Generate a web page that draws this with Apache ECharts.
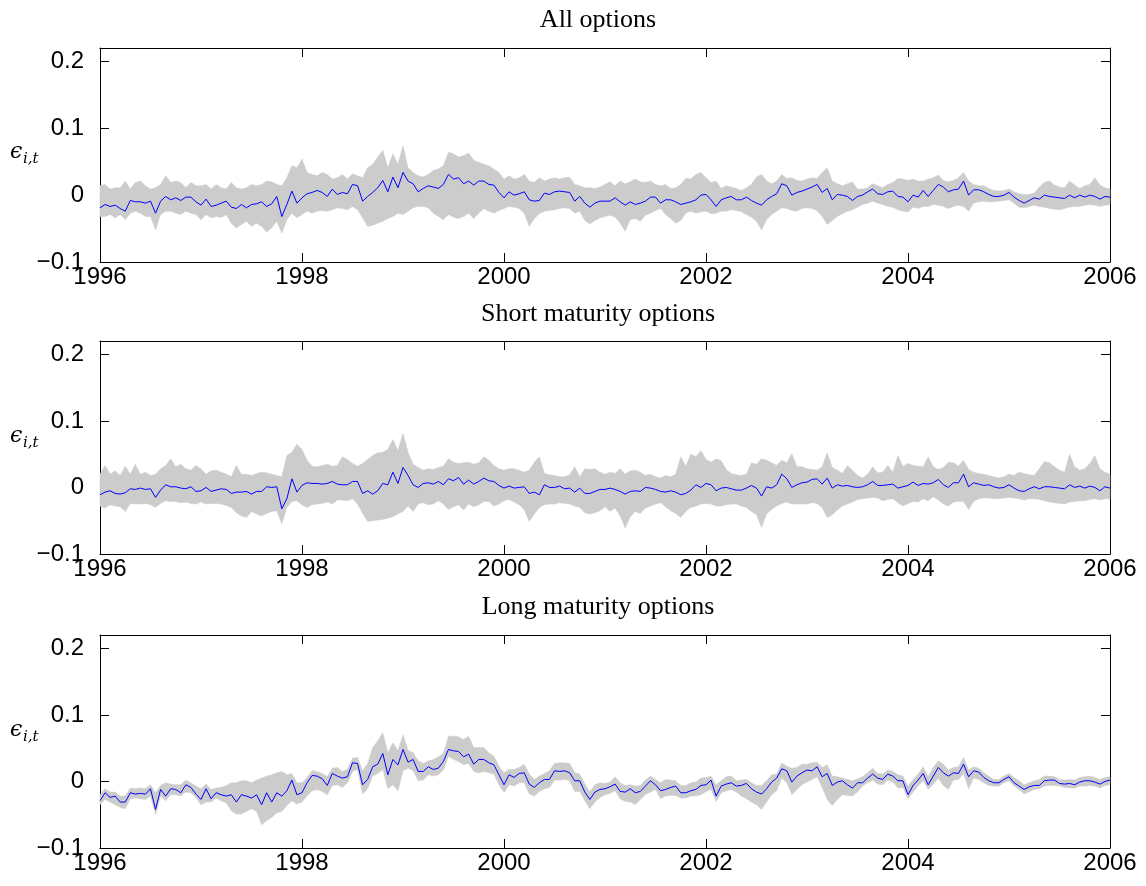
<!DOCTYPE html>
<html>
<head>
<meta charset="utf-8">
<title>Pricing errors by maturity</title>
<script src="https://cdn.jsdelivr.net/npm/echarts@6/dist/echarts.min.js"></script>
<style>
  html, body { margin: 0; padding: 0; background: #ffffff; }
  #chart { width: 1146px; height: 886px; }
</style>
</head>
<body>
<div id="chart"></div>
<script>
// Sampling dates (fractional years), roughly every 2.6 weeks from 1996 to 2006
const years = Array.from({ length: 201 }, (_, i) => +(1996 + i * 0.05).toFixed(2));

// Axis ticks
const xTickStep = 2;
const yRange = [-0.1, 0.22];
const yTickStep = 0.1;

// Panel titles
const panelTitles = ['All options', 'Short maturity options', 'Long maturity options'];

// ---- All options ----
const allMid = [
-0.019,-0.014,-0.017,-0.015,-0.020,-0.024,-0.008,-0.010,-0.010,-0.012,
-0.009,-0.027,-0.009,-0.002,-0.007,-0.004,-0.008,-0.003,-0.003,-0.010,
-0.015,-0.006,-0.017,-0.015,-0.012,-0.009,-0.018,-0.020,-0.014,-0.019,
-0.014,-0.013,-0.010,-0.017,-0.013,-0.002,-0.032,-0.014,0.006,-0.012,
-0.004,0.002,0.004,0.007,0.004,-0.002,0.009,0.001,0.004,0.002,
0.016,0.014,-0.009,-0.002,0.004,0.011,0.022,0.005,0.027,0.011,
0.034,0.021,0.017,0.005,0.010,0.014,0.012,0.010,0.016,0.031,
0.024,0.026,0.017,0.021,0.015,0.021,0.021,0.016,0.015,0.004,
-0.004,0.005,0.000,0.002,0.005,-0.007,-0.009,-0.008,0.003,0.001,
0.005,0.006,0.005,0.004,-0.009,-0.002,-0.012,-0.018,-0.012,-0.009,
-0.009,-0.009,-0.004,-0.010,-0.015,-0.010,-0.014,-0.012,-0.009,-0.003,
-0.003,-0.012,-0.007,-0.007,-0.010,-0.014,-0.012,-0.010,-0.007,0.000,
0.001,-0.007,-0.017,-0.007,-0.004,-0.002,-0.007,-0.007,-0.003,-0.008,
-0.012,-0.015,-0.007,-0.002,0.002,0.017,0.014,0.000,0.004,0.006,
0.009,0.012,0.016,0.004,0.010,-0.007,0.001,0.000,-0.002,-0.008,
-0.002,0.000,0.005,0.009,0.002,0.001,0.005,0.006,-0.002,-0.003,
-0.010,0.000,-0.003,0.007,-0.002,0.007,0.016,0.012,0.005,0.008,
0.009,0.021,0.000,0.008,0.008,0.005,0.001,-0.002,-0.002,0.000,
0.004,-0.003,-0.008,-0.012,-0.008,-0.004,-0.006,0.000,-0.002,-0.003,
-0.004,-0.005,0.000,-0.004,0.000,-0.003,0.000,-0.002,-0.006,-0.002,
-0.003
];
const allHigh = [
0.014,0.016,0.009,0.011,0.011,0.021,0.009,0.019,0.021,0.014,
0.009,0.011,0.016,0.029,0.019,0.021,0.019,0.011,0.019,0.014,
0.014,0.016,0.009,0.016,0.011,0.009,0.019,0.011,0.009,0.011,
0.016,0.014,0.016,0.021,0.020,0.016,0.014,0.026,0.044,0.041,
0.054,0.034,0.031,0.029,0.034,0.031,0.024,0.026,0.031,0.024,
0.032,0.029,0.026,0.041,0.046,0.057,0.067,0.041,0.062,0.046,
0.074,0.041,0.034,0.029,0.027,0.031,0.037,0.039,0.044,0.064,
0.062,0.057,0.059,0.063,0.052,0.049,0.046,0.044,0.039,0.034,
0.024,0.029,0.024,0.026,0.031,0.021,0.019,0.026,0.021,0.024,
0.026,0.024,0.026,0.027,0.016,0.014,0.011,0.011,0.010,0.012,
0.016,0.020,0.014,0.021,0.017,0.020,0.024,0.020,0.019,0.021,
0.016,0.014,0.016,0.010,0.011,0.016,0.025,0.024,0.031,0.034,
0.026,0.019,0.021,0.010,0.014,0.012,0.010,0.007,0.011,0.016,
0.027,0.031,0.021,0.017,0.021,0.031,0.025,0.026,0.022,0.021,
0.024,0.026,0.025,0.034,0.041,0.021,0.017,0.014,0.017,0.020,
0.009,0.009,0.011,0.017,0.014,0.011,0.016,0.019,0.025,0.024,
0.022,0.024,0.021,0.021,0.024,0.026,0.030,0.022,0.020,0.022,
0.026,0.034,0.021,0.016,0.014,0.014,0.010,0.007,0.006,0.007,
0.009,0.005,0.002,0.001,0.001,0.003,0.012,0.019,0.021,0.015,
0.012,0.011,0.021,0.015,0.010,0.014,0.016,0.026,0.015,0.011,
0.009
];
const allLow = [
-0.032,-0.032,-0.029,-0.034,-0.029,-0.037,-0.027,-0.024,-0.027,-0.032,
-0.032,-0.052,-0.029,-0.024,-0.024,-0.027,-0.029,-0.024,-0.027,-0.029,
-0.037,-0.029,-0.034,-0.032,-0.033,-0.029,-0.042,-0.049,-0.044,-0.039,
-0.047,-0.042,-0.047,-0.055,-0.049,-0.039,-0.057,-0.037,-0.027,-0.034,
-0.029,-0.024,-0.027,-0.024,-0.023,-0.024,-0.022,-0.019,-0.020,-0.022,
-0.017,-0.022,-0.034,-0.047,-0.045,-0.042,-0.039,-0.035,-0.032,-0.027,
-0.029,-0.024,-0.019,-0.017,-0.017,-0.019,-0.027,-0.032,-0.037,-0.029,
-0.033,-0.035,-0.032,-0.027,-0.035,-0.027,-0.020,-0.024,-0.027,-0.023,
-0.020,-0.017,-0.018,-0.020,-0.027,-0.047,-0.035,-0.028,-0.024,-0.023,
-0.022,-0.020,-0.019,-0.020,-0.027,-0.024,-0.038,-0.043,-0.038,-0.034,
-0.032,-0.030,-0.033,-0.042,-0.054,-0.037,-0.035,-0.039,-0.030,-0.027,
-0.023,-0.020,-0.029,-0.035,-0.042,-0.038,-0.027,-0.024,-0.027,-0.025,
-0.024,-0.028,-0.027,-0.024,-0.024,-0.022,-0.023,-0.025,-0.029,-0.033,
-0.039,-0.052,-0.037,-0.029,-0.024,-0.019,-0.020,-0.023,-0.024,-0.020,
-0.019,-0.020,-0.023,-0.032,-0.044,-0.038,-0.032,-0.028,-0.024,-0.022,
-0.018,-0.014,-0.012,-0.009,-0.012,-0.014,-0.017,-0.018,-0.022,-0.024,
-0.025,-0.018,-0.020,-0.017,-0.017,-0.014,-0.015,-0.017,-0.020,-0.017,
-0.015,-0.017,-0.024,-0.012,-0.010,-0.009,-0.010,-0.010,-0.009,-0.008,
-0.007,-0.012,-0.018,-0.019,-0.017,-0.015,-0.017,-0.018,-0.020,-0.021,
-0.022,-0.020,-0.018,-0.017,-0.017,-0.015,-0.014,-0.015,-0.017,-0.015,
-0.014
];

// ---- Short maturity options ----
const shortMid = [
-0.011,-0.007,-0.005,-0.009,-0.010,-0.008,-0.002,-0.003,-0.001,-0.003,
-0.002,-0.015,-0.004,0.004,0.001,0.001,-0.001,-0.002,0.001,-0.006,
-0.005,0.000,-0.006,-0.004,-0.002,-0.003,-0.009,-0.007,-0.007,-0.006,
-0.010,-0.006,-0.006,0.001,0.000,0.001,-0.032,-0.017,0.013,-0.007,
0.003,0.007,0.006,0.006,0.005,0.006,0.009,0.005,0.004,0.004,
0.009,0.009,-0.009,-0.005,-0.010,-0.005,0.006,0.004,0.023,0.006,
0.030,0.018,0.004,0.000,0.006,0.007,0.005,0.009,0.004,0.013,
0.010,0.015,0.005,0.011,0.005,0.009,0.014,0.010,0.009,0.003,
-0.001,0.002,-0.001,0.000,0.001,-0.009,-0.007,-0.011,0.004,0.000,
0.000,0.002,-0.002,-0.001,-0.007,-0.001,-0.009,-0.009,-0.006,-0.003,
-0.003,-0.001,-0.003,-0.006,-0.010,-0.006,-0.005,-0.006,0.000,-0.001,
-0.003,-0.006,-0.007,-0.005,-0.007,-0.011,-0.009,-0.004,0.004,0.000,
0.006,0.004,-0.005,-0.001,0.000,-0.002,-0.004,-0.004,-0.001,0.003,
-0.001,-0.013,0.001,-0.001,0.004,0.020,0.013,0.000,0.004,0.007,
0.008,0.012,0.013,0.005,0.014,-0.001,0.004,0.002,0.003,0.001,
0.000,0.001,0.004,0.009,0.003,0.003,0.004,0.005,-0.001,0.001,
0.003,0.008,0.003,0.006,0.005,0.007,0.012,0.004,0.000,0.007,
0.007,0.020,0.001,0.007,0.005,0.003,0.004,0.001,-0.001,0.000,
0.004,-0.001,-0.005,-0.006,-0.002,0.001,-0.002,0.001,0.001,0.000,
-0.001,-0.002,0.004,0.000,0.002,-0.001,0.002,0.000,-0.005,0.001,
-0.001
];
const shortHigh = [
0.020,0.033,0.020,0.025,0.018,0.032,0.020,0.035,0.020,0.023,
0.018,0.020,0.028,0.033,0.043,0.031,0.035,0.028,0.026,0.033,
0.028,0.020,0.025,0.026,0.023,0.020,0.016,0.033,0.020,0.020,
0.018,0.021,0.023,0.022,0.020,0.018,0.016,0.048,0.053,0.065,
0.057,0.041,0.032,0.031,0.033,0.035,0.032,0.033,0.046,0.042,
0.036,0.032,0.036,0.042,0.048,0.052,0.053,0.057,0.072,0.055,
0.081,0.053,0.035,0.030,0.026,0.028,0.027,0.030,0.032,0.043,
0.038,0.036,0.037,0.038,0.035,0.037,0.046,0.041,0.033,0.028,
0.026,0.028,0.028,0.026,0.023,0.026,0.038,0.046,0.021,0.019,
0.018,0.016,0.016,0.019,0.031,0.016,0.028,0.027,0.028,0.023,
0.020,0.023,0.021,0.028,0.020,0.025,0.026,0.023,0.018,0.020,
0.016,0.014,0.018,0.016,0.020,0.046,0.032,0.050,0.046,0.055,
0.042,0.038,0.043,0.040,0.027,0.021,0.019,0.018,0.020,0.037,
0.035,0.043,0.041,0.037,0.033,0.041,0.037,0.051,0.031,0.031,
0.028,0.027,0.026,0.031,0.052,0.030,0.026,0.021,0.033,0.026,
0.018,0.014,0.020,0.031,0.022,0.023,0.033,0.023,0.048,0.032,
0.036,0.033,0.032,0.031,0.046,0.031,0.027,0.030,0.038,0.037,
0.032,0.041,0.027,0.023,0.021,0.020,0.018,0.016,0.014,0.016,
0.020,0.018,0.023,0.021,0.019,0.018,0.028,0.039,0.037,0.031,
0.026,0.023,0.050,0.031,0.026,0.028,0.036,0.048,0.028,0.023,
0.020
];
const shortLow = [
-0.028,-0.031,-0.026,-0.028,-0.029,-0.036,-0.024,-0.025,-0.025,-0.024,
-0.026,-0.030,-0.024,-0.020,-0.021,-0.021,-0.023,-0.022,-0.024,-0.025,
-0.022,-0.025,-0.024,-0.024,-0.025,-0.027,-0.030,-0.038,-0.043,-0.045,
-0.036,-0.040,-0.043,-0.039,-0.036,-0.035,-0.055,-0.030,-0.021,-0.020,
-0.026,-0.030,-0.026,-0.025,-0.024,-0.022,-0.025,-0.019,-0.019,-0.020,
-0.017,-0.025,-0.039,-0.051,-0.050,-0.049,-0.048,-0.046,-0.044,-0.040,
-0.036,-0.028,-0.036,-0.025,-0.023,-0.026,-0.025,-0.020,-0.025,-0.033,
-0.029,-0.026,-0.034,-0.025,-0.029,-0.026,-0.021,-0.021,-0.028,-0.025,
-0.020,-0.018,-0.022,-0.026,-0.033,-0.051,-0.040,-0.030,-0.026,-0.025,
-0.025,-0.023,-0.024,-0.025,-0.028,-0.030,-0.038,-0.040,-0.038,-0.035,
-0.029,-0.036,-0.031,-0.043,-0.061,-0.044,-0.036,-0.039,-0.031,-0.028,
-0.025,-0.023,-0.029,-0.035,-0.039,-0.045,-0.036,-0.030,-0.028,-0.025,
-0.024,-0.025,-0.028,-0.028,-0.026,-0.025,-0.025,-0.028,-0.030,-0.036,
-0.041,-0.060,-0.040,-0.033,-0.028,-0.024,-0.022,-0.025,-0.025,-0.025,
-0.025,-0.023,-0.024,-0.030,-0.045,-0.041,-0.034,-0.028,-0.025,-0.022,
-0.018,-0.017,-0.016,-0.015,-0.016,-0.020,-0.018,-0.017,-0.023,-0.028,
-0.024,-0.021,-0.022,-0.017,-0.020,-0.014,-0.019,-0.025,-0.028,-0.022,
-0.021,-0.021,-0.033,-0.021,-0.017,-0.016,-0.016,-0.017,-0.017,-0.016,
-0.015,-0.016,-0.017,-0.019,-0.017,-0.017,-0.018,-0.020,-0.022,-0.023,
-0.024,-0.025,-0.022,-0.021,-0.020,-0.020,-0.018,-0.017,-0.019,-0.017,
-0.017
];

// ---- Long maturity options ----
const longMid = [
-0.029,-0.017,-0.024,-0.022,-0.031,-0.031,-0.017,-0.019,-0.018,-0.019,
-0.011,-0.042,-0.012,-0.022,-0.011,-0.012,-0.017,-0.005,-0.009,-0.019,
-0.027,-0.011,-0.026,-0.017,-0.020,-0.022,-0.020,-0.031,-0.020,-0.022,
-0.025,-0.020,-0.035,-0.017,-0.031,-0.017,-0.022,-0.014,0.002,-0.020,
-0.017,-0.002,0.009,0.008,0.004,-0.006,0.012,0.008,0.005,0.007,
0.028,0.027,-0.005,0.003,0.022,0.026,0.042,0.010,0.033,0.025,
0.048,0.029,0.033,0.015,0.015,0.022,0.018,0.020,0.030,0.048,
0.046,0.045,0.037,0.041,0.026,0.033,0.033,0.028,0.025,0.010,
-0.005,0.010,0.006,0.012,0.013,-0.004,-0.009,-0.002,0.003,0.003,
0.016,0.015,0.016,0.013,0.001,0.001,-0.016,-0.027,-0.016,-0.012,
-0.011,-0.008,-0.004,-0.015,-0.016,-0.011,-0.017,-0.015,-0.007,0.001,
-0.005,-0.014,-0.012,-0.009,-0.007,-0.017,-0.017,-0.014,-0.012,-0.006,
-0.005,0.002,-0.022,-0.007,-0.004,-0.002,-0.007,-0.006,-0.003,-0.011,
-0.016,-0.019,-0.011,-0.001,0.005,0.019,0.016,-0.001,0.008,0.013,
0.017,0.016,0.022,0.007,0.012,-0.006,-0.001,0.001,-0.005,-0.010,
-0.002,-0.002,0.005,0.011,0.005,0.003,0.011,0.008,0.001,0.001,
-0.020,-0.006,0.002,0.012,-0.005,0.008,0.021,0.013,0.008,0.013,
0.012,0.026,0.007,0.016,0.014,0.006,0.001,-0.002,-0.002,0.003,
0.007,-0.002,-0.007,-0.012,-0.008,-0.006,-0.006,0.001,0.002,0.002,
-0.003,-0.004,-0.003,-0.005,-0.001,0.001,0.001,-0.001,-0.004,0.000,
0.002
];
const longHigh = [
-0.020,-0.011,-0.016,-0.016,-0.022,-0.022,-0.010,-0.011,-0.010,-0.011,
-0.005,-0.017,-0.006,-0.002,-0.004,-0.005,-0.005,0.002,-0.002,-0.007,
-0.011,-0.004,-0.012,-0.010,-0.009,-0.006,-0.002,-0.002,0.001,0.001,
-0.002,0.002,0.005,0.008,0.010,0.013,0.015,0.010,0.012,-0.002,
-0.002,0.006,0.016,0.015,0.012,0.007,0.020,0.021,0.015,0.018,
0.035,0.036,0.016,0.027,0.051,0.061,0.073,0.043,0.058,0.046,
0.070,0.047,0.043,0.031,0.027,0.031,0.033,0.037,0.042,0.068,
0.068,0.067,0.063,0.068,0.051,0.051,0.051,0.043,0.038,0.023,
0.013,0.018,0.018,0.021,0.026,0.011,0.003,0.008,0.012,0.016,
0.027,0.028,0.028,0.027,0.013,0.011,-0.004,-0.015,-0.005,-0.002,
-0.003,-0.001,0.007,-0.002,-0.006,-0.005,-0.007,-0.006,0.002,0.008,
0.003,-0.002,0.003,0.002,0.001,-0.006,-0.006,-0.002,-0.001,0.005,
0.006,0.008,-0.005,0.001,0.007,0.008,0.001,0.002,0.003,-0.002,
-0.006,-0.006,0.001,0.010,0.011,0.028,0.023,0.020,0.021,0.026,
0.026,0.028,0.029,0.021,0.025,0.008,0.007,0.005,0.003,0.001,
0.004,0.007,0.013,0.020,0.012,0.011,0.017,0.015,0.010,0.008,
-0.007,0.003,0.011,0.022,0.007,0.021,0.031,0.026,0.017,0.021,
0.022,0.036,0.017,0.022,0.020,0.013,0.008,0.003,0.003,0.008,
0.012,0.006,0.001,-0.005,-0.002,0.001,0.003,0.008,0.008,0.007,
0.003,0.002,0.003,0.002,0.006,0.007,0.008,0.006,0.003,0.006,
0.007
];
const longLow = [
-0.035,-0.027,-0.031,-0.035,-0.039,-0.041,-0.026,-0.025,-0.026,-0.027,
-0.022,-0.050,-0.022,-0.029,-0.020,-0.020,-0.022,-0.016,-0.017,-0.024,
-0.035,-0.031,-0.031,-0.025,-0.029,-0.032,-0.044,-0.049,-0.049,-0.045,
-0.041,-0.045,-0.065,-0.059,-0.054,-0.047,-0.045,-0.036,-0.029,-0.034,
-0.031,-0.022,-0.014,-0.012,-0.015,-0.020,-0.006,-0.005,-0.009,-0.002,
0.015,0.018,-0.019,-0.011,0.008,0.012,0.018,-0.011,-0.005,-0.014,
0.016,0.020,0.016,0.001,0.002,0.010,0.008,0.010,0.017,0.038,
0.033,0.030,0.025,0.027,0.015,0.013,0.015,0.013,0.011,-0.005,
-0.017,-0.005,-0.007,-0.002,-0.002,-0.019,-0.022,-0.015,-0.011,-0.009,
0.002,0.002,0.003,0.001,-0.015,-0.015,-0.029,-0.041,-0.031,-0.024,
-0.020,-0.018,-0.014,-0.026,-0.030,-0.031,-0.035,-0.027,-0.020,-0.016,
-0.012,-0.026,-0.022,-0.021,-0.021,-0.025,-0.025,-0.022,-0.022,-0.020,
-0.015,-0.012,-0.030,-0.017,-0.014,-0.012,-0.016,-0.022,-0.026,-0.031,
-0.035,-0.042,-0.031,-0.020,-0.014,0.005,-0.002,-0.020,-0.012,-0.005,
-0.001,0.003,0.007,-0.009,-0.027,-0.036,-0.027,-0.020,-0.021,-0.022,
-0.016,-0.007,-0.002,0.002,-0.004,-0.005,0.002,-0.001,-0.010,-0.009,
-0.026,-0.016,-0.007,0.001,-0.012,-0.004,0.005,-0.006,-0.012,0.002,
0.003,0.012,-0.011,0.005,0.003,-0.002,-0.006,-0.007,-0.007,-0.002,
0.001,-0.007,-0.012,-0.019,-0.015,-0.012,-0.011,-0.007,-0.006,-0.006,
-0.007,-0.009,-0.010,-0.010,-0.007,-0.007,-0.006,-0.007,-0.010,-0.006,
-0.005
];

const panels = [
  { mid: allMid,   low: allLow,   high: allHigh,   top: 48,  height: 214, titleY: 20,  epsY: 152 },
  { mid: shortMid, low: shortLow, high: shortHigh, top: 341, height: 213, titleY: 314, epsY: 436 },
  { mid: longMid,  low: longLow,  high: longHigh,  top: 635, height: 213, titleY: 607, epsY: 730 }
];

const BAND = '#cccccc';
const LINE = '#0000ff';
const tickFont = 'Liberation Sans, Arial, Helvetica, sans-serif';

function yLabel(v) {
  const t = Math.round(v * 10) / 10;
  if (Math.abs(v - t) > 1e-6) return '';
  if (t === 0) return '0';
  return t < 0 ? '\u2212' + String(-t) : String(t);
}

// Shaded band: one polygon running along the upper edge and back along the lower edge,
// positioned through the panel's own axes.
function bandRenderer(low, high) {
  return function (params, api) {
    if (params.dataIndex !== 0) return null;
    const pts = [];
    for (let i = 0; i < years.length; i++) pts.push(api.coord([years[i], high[i]]));
    for (let i = years.length - 1; i >= 0; i--) pts.push(api.coord([years[i], low[i]]));
    return {
      type: 'polygon',
      shape: { points: pts },
      style: { fill: BAND, stroke: BAND, lineWidth: 0.5 },
      silent: true
    };
  };
}

const grid = [], xAxis = [], yAxis = [], series = [], graphic = [];

panels.forEach((p, k) => {
  grid.push({ left: 100, right: 36, top: p.top, height: p.height });

  const xBase = {
    type: 'value', gridIndex: k, min: 1996, max: 2006, interval: xTickStep,
    axisLine: { onZero: false, lineStyle: { color: '#000', width: 1 } },
    axisTick: { inside: true, length: 9, lineStyle: { color: '#000', width: 1 } },
    splitLine: { show: false }
  };
  xAxis.push(Object.assign({}, xBase, {
    position: 'bottom',
    axisLabel: { color: '#000', fontSize: 24, fontFamily: tickFont, margin: 3,
                 formatter: v => String(Math.round(v)) }
  }));
  xAxis.push(Object.assign({}, xBase, { position: 'top', axisLabel: { show: false } }));

  const yBase = {
    type: 'value', gridIndex: k, min: yRange[0], max: yRange[1], interval: yTickStep,
    axisLine: { onZero: false, lineStyle: { color: '#000', width: 1 } },
    axisTick: { inside: true, length: 9, lineStyle: { color: '#000', width: 1 } },
    splitLine: { show: false }
  };
  yAxis.push(Object.assign({}, yBase, {
    position: 'left',
    axisLabel: { color: '#000', fontSize: 24, fontFamily: tickFont, margin: 16, formatter: yLabel }
  }));
  yAxis.push(Object.assign({}, yBase, { position: 'right', axisLabel: { show: false } }));

  const xi = 2 * k, yi = 2 * k;
  series.push({
    type: 'custom', xAxisIndex: xi, yAxisIndex: yi, silent: true, z: 1,
    renderItem: bandRenderer(p.low, p.high),
    encode: { x: 0, y: [1, 2] },
    data: years.map((x, i) => [x, p.low[i], p.high[i]])
  });
  // Pricing error path
  series.push({
    type: 'line', xAxisIndex: xi, yAxisIndex: yi, symbol: 'none', silent: true, z: 2,
    lineStyle: { color: LINE, width: 1 },
    data: years.map((x, i) => [x, p.mid[i]])
  });

  graphic.push({
    type: 'text', x: 598, y: p.titleY,
    style: { text: panelTitles[k], fill: '#000', font: '26px "Liberation Serif", "DejaVu Serif", serif',
             textAlign: 'center', textVerticalAlign: 'middle' }
  });
  graphic.push({
    type: 'text', x: 10, y: p.epsY,
    style: { text: '\u03f5', fill: '#000', font: 'italic 22px "DejaVu Serif", serif',
             textAlign: 'left', textVerticalAlign: 'middle' }
  });
  graphic.push({
    type: 'text', x: 23, y: p.epsY + 7,
    style: { text: 'i,t', fill: '#000', font: 'italic 15px "DejaVu Serif", serif',
             textAlign: 'left', textVerticalAlign: 'middle' }
  });
});

const chart = echarts.init(document.getElementById('chart'), null, { renderer: 'canvas' });
chart.setOption({
  animation: false,
  backgroundColor: '#ffffff',
  grid, xAxis, yAxis, series, graphic
});
</script>
</body>
</html>
